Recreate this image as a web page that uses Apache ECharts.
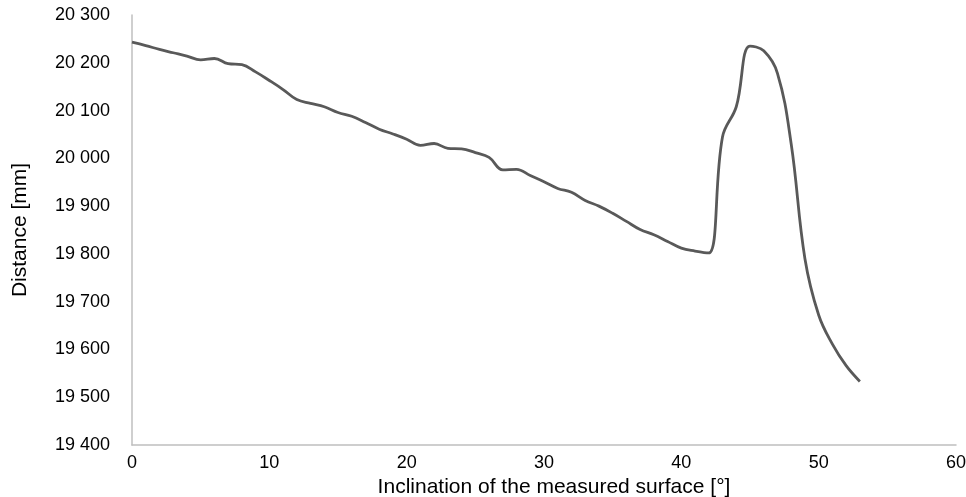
<!DOCTYPE html>
<html>
<head>
<meta charset="utf-8">
<script src="https://cdn.jsdelivr.net/npm/echarts@6/dist/echarts.min.js"></script>
<style>
  html, body { margin: 0; padding: 0; background: #fff; }
  #chart { width: 966px; height: 497px; }
</style>
</head>
<body>
<div id="chart"></div>
<script>
// inclination of the measured surface [°]
const inclination = [
  0, 1, 2, 3, 4, 5, 6, 7, 8, 9,
  10, 11, 12, 13, 14, 15, 16, 17, 18, 19,
  20, 21, 22, 23, 24, 25, 26, 27, 28, 29,
  30, 31, 32, 33, 34, 35, 36, 37, 38, 39,
  40, 41, 42, 43, 44, 45, 46, 47, 48, 49,
  50, 51, 52, 53
];

// measured distance [mm]
const distance = [
  20243, 20236, 20228, 20221, 20214, 20206, 20209, 20198, 20196, 20181,
  20163, 20144, 20123, 20115, 20108, 20096, 20088, 20075, 20061, 20051,
  20040, 20027, 20031, 20021, 20020, 20012, 20002, 19976, 19977, 19964,
  19951, 19937, 19929, 19912, 19900, 19885, 19868, 19851, 19840, 19826,
  19812, 19806, 19802, 20045, 20108, 20235, 20225, 20178, 20030, 19790,
  19672, 19611, 19566, 19533
];

const xTicks = { min: 0, max: 60, step: 10 };
const yTicks = { min: 19400, max: 20300, step: 100 };

const fontFamily = '"Liberation Sans", Arial, sans-serif';

function spaced(v) {
  return String(v).replace(/\B(?=(\d{3})+(?!\d))/g, ' ');
}

const chart = echarts.init(document.getElementById('chart'));

chart.setOption({
  animation: false,
  backgroundColor: '#ffffff',
  grid: { left: 132, right: 10, top: 15, bottom: 52, outerBoundsMode: 'none', containLabel: false },
  xAxis: {
    type: 'value',
    min: xTicks.min,
    max: xTicks.max,
    interval: xTicks.step,
    name: 'Inclination of the measured surface [°]',
    nameLocation: 'middle',
    nameGap: 30,
    nameTextStyle: { color: '#000', fontSize: 21, fontFamily, padding: [0, 0, 0, 20] },
    axisLine: { lineStyle: { color: '#bfbfbf', width: 1.5 } },
    axisTick: { show: false },
    splitLine: { show: false },
    axisLabel: { color: '#000', fontSize: 18, fontFamily, margin: 9 }
  },
  yAxis: {
    type: 'value',
    min: yTicks.min,
    max: yTicks.max,
    interval: yTicks.step,
    name: 'Distance [mm]',
    nameLocation: 'middle',
    nameGap: 101,
    nameTextStyle: { color: '#000', fontSize: 21, fontFamily },
    axisLine: { show: true, lineStyle: { color: '#bfbfbf', width: 1.5 } },
    axisTick: { show: false },
    splitLine: { show: false },
    axisLabel: { color: '#000', fontSize: 18, fontFamily, margin: 22, formatter: spaced }
  },
  series: [{
    type: 'line',
    data: inclination.map((x, i) => [x, distance[i]]),
    showSymbol: false,
    smooth: 0.4,
    lineStyle: { color: '#595959', width: 2.8 }
  }]
});
</script>
</body>
</html>
